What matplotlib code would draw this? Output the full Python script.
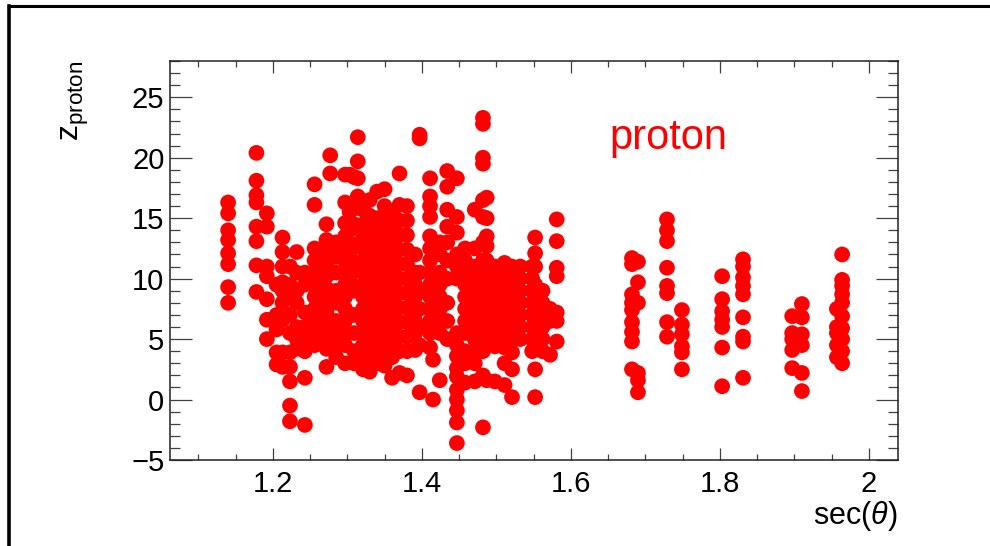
import matplotlib
matplotlib.use("Agg")
import matplotlib.pyplot as plt
from matplotlib.lines import Line2D
from matplotlib.ticker import MultipleLocator, FuncFormatter

plt.rcParams['font.family'] = ['Liberation Sans', 'DejaVu Sans']
plt.rcParams['mathtext.fontset'] = 'custom'
plt.rcParams['mathtext.rm'] = 'Liberation Sans'
plt.rcParams['mathtext.it'] = 'Liberation Sans:italic'

# sec(theta) of each angle setting and the measured z values at that setting
sec_columns = [
    1.140, 1.178, 1.192, 1.205, 1.213, 1.223, 1.232, 1.243, 1.256, 1.272,
    1.277, 1.285, 1.297, 1.303, 1.309, 1.314, 1.321, 1.330, 1.340, 1.350,
    1.360, 1.370, 1.380, 1.391, 1.397, 1.411, 1.415, 1.424, 1.434, 1.447,
    1.458, 1.471, 1.482, 1.487, 1.498, 1.511, 1.521, 1.532, 1.548, 1.552,
    1.562, 1.572, 1.581, 1.682, 1.690, 1.729, 1.749, 1.803, 1.831, 1.897,
    1.910, 1.957, 1.964,
]
z_columns = [
    [16.3, 15.4, 14.0, 13.2, 12.1, 11.2, 9.3, 8.0],
    [20.4, 18.1, 16.9, 16.3, 14.3, 13.1, 11.1, 8.9],
    [15.4, 14.3, 11.0, 10.2, 8.3, 6.6, 5.0],
    [9.5, 7.0, 5.8, 3.9, 2.9],
    [13.4, 12.2, 11.0, 9.7, 9.0, 8.0, 6.6, 3.9, 2.7],
    [11.0, 9.5, 8.5, 7.0, 5.5, 3.9, 2.7, 1.5, -0.5, -1.8],
    [12.2, 10.5, 9.0, 8.0, 6.0, 5.0, 4.2],
    [10.5, 9.5, 7.2, 6.0, 5.0, 4.0, 1.8, -2.1],
    [17.8, 16.1, 12.5, 11.5, 10.5, 9.5, 8.5, 7.5, 6.5, 5.5, 4.5],
    [14.5, 13.2, 12.2, 11.2, 10.2, 9.2, 8.2, 7.2, 6.2, 5.2, 4.2, 2.7],
    [20.2, 18.7],
    [13.0, 11.8, 10.5, 9.0, 8.0, 6.5, 5.5, 4.5, 3.5],
    [18.6, 16.3, 14.6, 13.5, 12.5, 11.5, 10.5, 9.5, 8.5, 7.5, 6.5, 5.5, 4.5, 3.0],
    [18.6, 15.5, 14.0, 12.0, 10.0],
    [18.4, 15.8, 14.5, 12.8, 11.0, 9.0, 7.0, 5.5, 4.0, 3.0],
    [21.7, 19.7, 18.3, 16.8],
    [15.7, 14.5, 13.5, 12.5, 11.5, 10.5, 9.5, 8.5, 7.5, 6.5, 5.5, 4.5, 3.5, 2.5],
    [16.5, 15.2, 14.2, 13.2, 12.2, 11.2, 10.2, 9.2, 8.2, 7.2, 6.2, 5.2, 4.2, 3.2, 2.3],
    [17.2, 15.0, 13.8, 12.6, 11.4, 10.2, 9.0, 7.8, 6.6, 5.4, 4.2, 3.0],
    [17.4, 16.0, 14.8, 13.6, 12.4, 11.2, 10.0, 8.8, 7.6, 6.4, 5.2, 4.0, 2.8],
    [15.5, 14.3, 13.1, 11.9, 10.7, 9.5, 8.3, 7.1, 5.9, 4.7, 3.5, 1.8],
    [18.7, 16.1, 14.8, 13.6, 12.4, 11.2, 10.0, 8.8, 7.6, 6.4, 5.2, 4.0, 2.2],
    [16.0, 14.8, 13.6, 12.4, 11.2, 10.0, 8.8, 7.6, 6.4, 5.2, 4.0, 2.0],
    [12.0, 10.5, 9.5, 8.5, 7.5, 6.5, 5.5, 4.1],
    [21.9, 21.6, 10.5, 9.0, 7.5, 6.0, 4.5, 0.6],
    [18.3, 16.8, 16.0, 15.1, 13.5, 12.5, 11.5, 10.5, 9.5, 8.5, 7.5, 6.5, 5.5, 4.3],
    [3.3, 0.0],
    [13.0, 12.0, 10.5, 9.5, 8.5, 7.5, 6.5, 5.5, 1.6],
    [18.9, 17.6, 15.7, 14.3, 13.0, 11.5, 10.0, 8.0, 6.5, 5.0],
    [18.3, 15.1, 13.8, 12.0, 11.0, 10.0, 5.5, 4.5, 3.6, 2.6, 1.9, 0.8, 0.0, -0.9, -1.9, -3.6],
    [12.5, 11.5, 10.5, 9.5, 8.5, 7.5, 6.5, 5.5, 4.0, 3.0, 1.4],
    [15.7, 12.5, 11.0, 10.0, 9.0, 8.0, 7.0, 6.0, 5.0, 4.0, 3.0, 1.5],
    [23.3, 22.8, 20.0, 19.5, 16.5, 15.1, 13.0, 11.5, 10.0, 8.5, 7.0, 5.5, 4.0, 2.0, -2.3],
    [16.7, 15.0, 13.5, 12.7, 11.5, 10.5, 9.5, 8.5, 7.5, 6.5, 5.5, 4.5, 1.6],
    [11.0, 10.0, 9.0, 8.0, 7.0, 6.0, 5.0, 4.4, 1.5],
    [11.3, 10.3, 9.3, 8.3, 7.3, 6.3, 5.3, 4.3, 3.0, 1.2],
    [11.0, 10.0, 9.0, 8.0, 7.0, 6.0, 5.0, 3.9, 2.5, 0.2],
    [11.0, 10.0, 9.0, 8.0, 7.0, 6.0, 5.0],
    [11.0, 10.0, 9.0, 8.0, 7.0, 6.0, 5.0, 4.0],
    [13.4, 12.1, 11.0, 9.5, 8.5, 7.5, 6.5, 5.5, 4.5, 2.5, 0.2],
    [9.0, 8.0, 7.0, 6.0, 5.0, 4.0],
    [7.5, 6.5, 3.7],
    [14.9, 13.1, 10.9, 10.2, 7.2, 6.5, 4.8],
    [11.7, 11.2, 8.7, 8.0, 7.4, 6.4, 5.6, 4.8, 2.5],
    [11.4, 9.7, 8.0, 2.2, 1.6, 0.6],
    [14.9, 14.0, 13.1, 10.9, 9.4, 8.8, 6.4, 5.2],
    [7.4, 6.2, 5.4, 4.4, 3.9, 2.5],
    [10.2, 8.3, 7.3, 6.6, 6.0, 4.3, 1.1],
    [11.6, 11.0, 10.1, 9.4, 8.7, 6.8, 5.2, 4.8, 1.8],
    [6.9, 5.5, 5.0, 4.1, 2.6],
    [7.9, 6.8, 5.4, 4.5, 2.2, 0.7],
    [7.5, 6.0, 5.5, 4.5, 3.5],
    [12.0, 9.9, 9.4, 8.7, 8.0, 6.9, 5.9, 5.0, 4.0, 3.0],
]

xs = []
ys = []
for sec, zs in zip(sec_columns, z_columns):
    xs += [sec] * len(zs)
    ys += zs

fig = plt.figure(figsize=(9.9, 5.46), dpi=100)
ax = fig.add_axes([170 / 990, 86 / 546, 728 / 990, 399 / 546])

ax.scatter(xs, ys, s=128, c='#ff0000', edgecolors='none', zorder=3)

ax.set_xlim(1.062, 2.039)
ax.set_ylim(-5, 28)

ax.xaxis.set_major_locator(MultipleLocator(0.2))
ax.xaxis.set_minor_locator(MultipleLocator(0.05))
ax.yaxis.set_major_locator(MultipleLocator(5))
ax.yaxis.set_minor_locator(MultipleLocator(1))
ax.xaxis.set_major_formatter(FuncFormatter(lambda v, p: f'{v:g}'))

ax.tick_params(which='both', direction='in', top=True, right=True,
               color='#404040', width=0.9, labelsize=21)
ax.tick_params(axis='y', which='major', length=16, pad=4)
ax.tick_params(axis='y', which='minor', length=7)
ax.tick_params(axis='x', which='major', length=8.5, pad=7)
ax.tick_params(axis='x', which='minor', length=4)
for sp in ax.spines.values():
    sp.set_linewidth(1.1)
    sp.set_color('#222222')

ax.text(1.652, 20.7, 'proton', color='#ff0000', fontsize=30,
        ha='left', va='baseline')

fig.text(75 / 990, 1 - 61 / 546, r'z$_{\mathregular{proton}}$', rotation=90,
         ha='center', va='top', fontsize=23)
fig.text(898 / 990, 1 - 516 / 546, r'sec($\theta$)', ha='right', va='center',
         fontsize=22)

# frame lines along the top and left edges
fig.add_artist(Line2D([9 / 990, 1.0], [1 - 6 / 546, 1 - 6 / 546],
                      transform=fig.transFigure, color='black', linewidth=2.2))
fig.add_artist(Line2D([9 / 990, 9 / 990], [0.0, 1 - 6 / 546],
                      transform=fig.transFigure, color='black', linewidth=2.6))

fig.savefig('out.png', dpi=100)
